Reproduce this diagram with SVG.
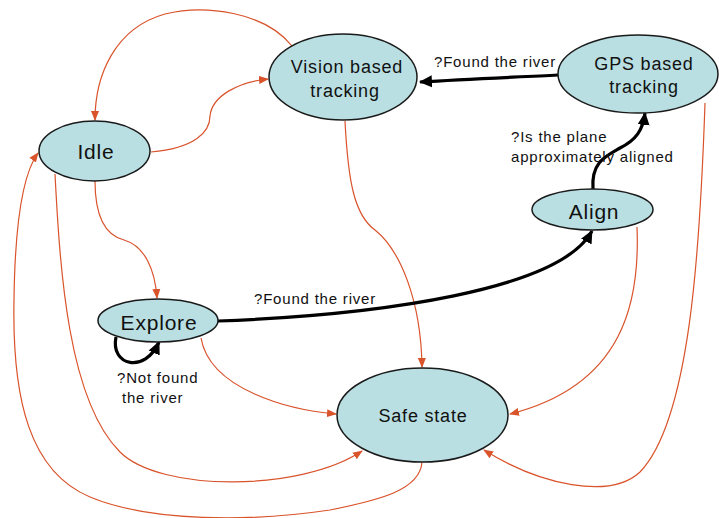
<svg xmlns="http://www.w3.org/2000/svg" width="719" height="518" viewBox="0 0 719 518">
<style>
.node{fill:#b9dfe3;stroke:#1a1a1a;stroke-width:1.5}
.nt{font-family:"Liberation Sans",Arial,sans-serif;fill:#111;text-anchor:middle;letter-spacing:0.8px}
.el{font-family:"Liberation Sans",Arial,sans-serif;fill:#111;font-size:15px;letter-spacing:0.8px}
.o{fill:none;stroke:#d9532b;stroke-width:1.2}
.b{fill:none;stroke:#000;stroke-width:3.2}
</style>
<defs>
<marker id="ao" markerUnits="userSpaceOnUse" markerWidth="10" markerHeight="10" viewBox="0 0 10 10" refX="9" refY="5" orient="auto">
<path d="M0,1 L10,5 L0,9 Z" fill="#d9532b"/>
</marker>
<marker id="ab" markerUnits="userSpaceOnUse" markerWidth="14" markerHeight="14" viewBox="0 0 14 14" refX="12" refY="7" orient="auto">
<path d="M0,1 L13,7 L0,13 Z" fill="#000"/>
</marker>
</defs>
<g id="connectors">
<path class="o" marker-end="url(#ao)" d="M292 46 C265 12 205 4 165 14 C115 28 95 75 95 120"/>
<path class="o" marker-end="url(#ao)" d="M151 152 C195 148 210 132 210 116 C212 96 238 82 268 79"/>
<path class="o" marker-end="url(#ao)" d="M95 181 C95 222 108 236 124 240 C145 246 155 270 157 298"/>
<path class="o" marker-end="url(#ao)" d="M55 174 C60 270 68 400 120 452 C160 492 300 492 362 451"/>
<path class="o" marker-end="url(#ao)" d="M422 462 C420 490 380 500 330 510 C250 522 150 522 90 497 C30 472 12 400 14 300 C15 220 24 172 38 153"/>
<path class="o" marker-end="url(#ao)" d="M345 121 C348 180 354 215 375 230 C400 250 421 300 422 367"/>
<path class="o" marker-end="url(#ao)" d="M201 338 C210 390 290 410 336 414"/>
<path class="o" marker-end="url(#ao)" d="M637 227 C640 300 625 385 510 414"/>
<path class="o" marker-end="url(#ao)" d="M705 103 C700 250 690 420 640 472 C610 500 540 485 484 450"/>
<path class="b" marker-end="url(#ab)" d="M558 75 C520 77 470 79 420 82"/>
<path class="b" marker-end="url(#ab)" d="M593 189 C591 162 606 156 620 148 C636 140 643 130 645 113"/>
<path class="b" marker-end="url(#ab)" d="M218 321 C380 315 560 290 592 231"/>
<path class="b" marker-end="url(#ab)" d="M116 337 C110 366 145 374 159 342"/>
<text class="el" x="434" y="67">?Found the river</text>
<text class="el" x="511" y="142">?Is the plane</text>
<text class="el" x="511" y="162">approximately aligned</text>
<text class="el" x="254" y="304">?Found the river</text>
<text class="el" x="117" y="383">?Not found</text>
<text class="el" x="122" y="403">the river</text>
</g>
<g id="idle"><ellipse class="node" cx="94.5" cy="151" rx="55.5" ry="30"/><text class="nt" x="96" y="159" font-size="21">Idle</text></g>
<g id="vision"><ellipse class="node" cx="343" cy="77" rx="74" ry="43"/><text class="nt" x="347" y="73" font-size="18">Vision based</text><text class="nt" x="345" y="97" font-size="18">tracking</text></g>
<g id="gps"><ellipse class="node" cx="638" cy="74" rx="80" ry="39"/><text class="nt" x="644" y="70" font-size="18">GPS based</text><text class="nt" x="644" y="93" font-size="18">tracking</text></g>
<g id="align"><ellipse class="node" cx="592.5" cy="209.5" rx="60.5" ry="20.5"/><text class="nt" x="594" y="219" font-size="21">Align</text></g>
<g id="explore"><ellipse class="node" cx="158" cy="320.5" rx="60" ry="21.5"/><text class="nt" x="159" y="330" font-size="21">Explore</text></g>
<g id="safe"><ellipse class="node" cx="422.5" cy="415" rx="85.5" ry="47"/><text class="nt" x="423" y="422" font-size="18">Safe state</text></g>
</svg>
